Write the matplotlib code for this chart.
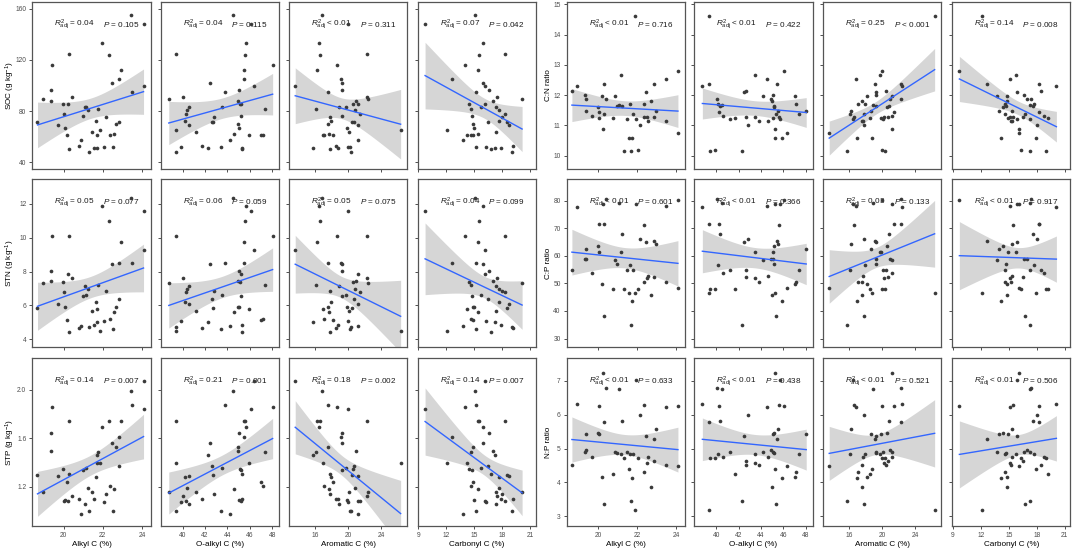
import numpy as np
import matplotlib
matplotlib.use("Agg")
import matplotlib.pyplot as plt

plt.rcParams['font.family'] = ['Liberation Sans', 'DejaVu Sans']
plt.rcParams['mathtext.fontset'] = 'custom'
plt.rcParams['mathtext.rm'] = 'Liberation Sans'
plt.rcParams['mathtext.it'] = 'Liberation Sans:italic'
plt.rcParams['mathtext.bf'] = 'Liberation Sans:bold'

# ---------------- data (one value per soil sample) ----------------
alkyl_c = [18.67, 18.94, 19.34, 19.37, 19.41, 19.72, 19.98, 20.03, 20.07, 20.19, 20.24, 20.30, 20.30, 20.42,
           20.79, 20.89, 20.98, 21.08, 21.15, 21.24, 21.31, 21.47, 21.57, 21.64, 21.71, 21.73, 21.78, 21.87,
           21.95, 22.04, 22.16, 22.34, 22.37, 22.46, 22.51, 22.57, 22.69, 22.84, 22.84, 22.95, 23.46, 23.49,
           24.08, 24.08]
o_alkyl_c = [42.70, 38.77, 45.03, 44.91, 48.04, 40.58, 45.12, 40.28, 45.03, 47.02, 45.21, 39.39, 45.34, 40.06,
             41.72, 44.20, 45.18, 40.55, 43.50, 40.37, 39.45, 41.20, 45.28, 40.18, 42.30, 45.92, 47.39, 39.39,
             45.67, 39.88, 42.85, 45.58, 47.15, 42.45, 43.44, 44.63, 44.97, 42.64, 45.46, 45.49, 44.54, 43.83,
             46.10, 46.35]
aromatic_c = [20.50, 22.38, 19.21, 21.00, 18.71, 21.17, 20.63, 21.50, 19.92, 18.13, 21.17, 22.25, 17.79, 22.29,
              18.50, 21.25, 19.25, 18.92, 19.75, 20.83, 20.33, 20.17, 18.83, 17.88, 15.79, 17.00, 16.13, 26.38,
              16.42, 20.04, 17.79, 16.58, 17.10, 19.21, 20.25, 17.71, 17.50, 20.71, 19.13, 16.25, 16.88, 17.50,
              20.04, 13.58]
carbonyl_c = [18.46, 20.11, 16.61, 16.96, 14.00, 18.75, 14.43, 18.29, 14.95, 14.85, 16.11, 18.25, 16.75, 17.43,
              19.18, 13.75, 14.71, 17.29, 15.75, 17.64, 19.00, 17.32, 17.89, 17.68, 17.25, 14.21, 14.65, 12.11,
              15.93, 16.29, 18.00, 15.46, 14.60, 15.93, 15.18, 15.39, 14.85, 16.50, 12.64, 15.39, 15.11, 15.21,
              9.71, 16.10]
soc = [71.2, 89.8, 96.6, 88.0, 116.0, 69.0, 85.6, 77.5, 66.7, 61.5, 85.6, 124.9, 50.0, 90.8, 52.6, 57.3, 76.2,
       83.5, 83.5, 80.9, 48.1, 63.3, 51.3, 72.5, 51.0, 61.0, 81.9, 65.2, 133.3, 51.8, 75.1, 124.1, 61.0, 101.8,
       51.8, 62.3, 69.9, 71.7, 105.5, 112.0, 155.0, 94.8, 148.2, 100.0]
stn = [5.87, 7.30, 8.05, 7.42, 10.10, 6.10, 7.38, 6.77, 5.93, 5.14, 7.87, 10.10, 4.40, 7.64, 4.67, 4.79, 6.54,
       7.15, 6.60, 6.95, 4.73, 5.65, 4.85, 6.20, 5.03, 5.77, 7.19, 4.46, 11.90, 5.08, 6.83, 11.00, 5.22, 8.42,
       4.59, 5.60, 5.93, 6.36, 8.52, 9.76, 12.37, 8.50, 11.57, 9.30]
stp = [1.296, 1.155, 1.644, 1.500, 1.860, 1.288, 1.350, 1.084, 1.090, 1.240, 1.085, 1.745, 1.310, 1.127, 1.100,
       0.980, 1.340, 1.056, 1.360, 1.195, 1.000, 1.155, 1.100, 1.280, 1.460, 1.400, 1.490, 1.400, 1.690, 1.076,
       1.140, 1.745, 1.210, 1.565, 1.000, 1.180, 1.530, 1.370, 1.610, 1.745, 1.990, 1.875, 1.845, 2.070]
cn_ratio = [12.13, 12.30, 12.00, 11.86, 11.49, 11.31, 11.60, 11.45, 11.25, 11.96, 10.88, 12.37, 11.36, 11.88,
            11.26, 11.96, 11.65, 11.68, 12.65, 11.64, 10.17, 11.20, 10.58, 11.69, 10.14, 10.57, 11.39, 14.62,
            11.20, 10.20, 11.00, 11.28, 11.69, 12.09, 11.29, 11.13, 11.79, 11.27, 12.38, 11.48, 12.53, 11.15,
            12.81, 10.75]
cp_ratio = [54.9, 77.7, 58.8, 58.7, 62.4, 53.6, 63.4, 71.5, 61.2, 49.6, 78.9, 71.6, 38.2, 80.6, 47.8, 58.5, 56.9,
            79.1, 61.4, 67.7, 48.1, 54.8, 46.6, 56.6, 34.9, 43.6, 55.0, 46.6, 78.9, 48.1, 65.9, 71.1, 50.4, 65.0,
            51.8, 52.8, 45.7, 52.3, 65.5, 64.2, 77.9, 50.6, 80.3, 48.3]
np_ratio = [4.53, 6.32, 4.90, 4.95, 5.43, 4.74, 5.47, 6.25, 5.44, 4.15, 7.25, 5.79, 3.36, 6.78, 4.25, 4.89, 4.88,
            6.77, 4.85, 5.82, 4.73, 4.89, 4.41, 4.84, 3.45, 4.12, 4.83, 3.19, 7.04, 4.72, 5.99, 6.30, 4.31, 5.38,
            4.59, 4.75, 3.88, 4.64, 5.29, 5.59, 6.22, 4.53, 6.27, 4.49]

x_vars = [alkyl_c, o_alkyl_c, aromatic_c, carbonyl_c]
x_labels = ["Alkyl C (%)", "O-alkyl C (%)", "Aromatic C (%)", "Carbonyl C (%)"]
x_ticks = [[20, 22, 24], [40, 42, 44, 46, 48], [16, 20, 24], [9, 12, 15, 18, 21]]
x_lims = [(18.41, 24.44), (38.05, 48.6), (12.85, 27.2), (8.93, 21.6)]

y_vars_left = [soc, stn, stp]
y_vars_right = [cn_ratio, cp_ratio, np_ratio]
y_labels_left = ["SOC (g kg$^{-1}$)", "STN (g kg$^{-1}$)", "STP (g kg$^{-1}$)"]
y_labels_right = ["C:N ratio", "C:P ratio", "N:P ratio"]
y_ticks_left = [[40, 80, 120, 160], [4, 6, 8, 10, 12], [1.2, 1.6, 2.0]]
y_ticks_right = [[10, 11, 12, 13, 14, 15], [30, 40, 50, 60, 70, 80], [3, 4, 5, 6, 7]]
y_lims_left = [(34.5, 165.5), (3.55, 13.45), (0.88, 2.26)]
y_lims_right = [(9.55, 15.08), (27.0, 87.7), (2.72, 7.67)]

r2_left = [["= 0.04", "= 0.04", "< 0.01", "= 0.07"],
           ["= 0.05", "= 0.06", "= 0.05", "= 0.04"],
           ["= 0.14", "= 0.21", "= 0.18", "= 0.14"]]
p_left = [["= 0.105", "= 0.115", "= 0.311", "= 0.042"],
          ["= 0.077", "= 0.059", "= 0.075", "= 0.099"],
          ["= 0.007", "= 0.001", "= 0.002", "= 0.007"]]
r2_right = [["< 0.01", "< 0.01", "= 0.25", "= 0.14"],
            ["< 0.01", "< 0.01", "= 0.03", "< 0.01"],
            ["< 0.01", "< 0.01", "< 0.01", "< 0.01"]]
p_right = [["= 0.716", "= 0.422", "< 0.001", "= 0.008"],
           ["= 0.601", "= 0.366", "= 0.133", "= 0.917"],
           ["= 0.633", "= 0.438", "= 0.521", "= 0.506"]]

# ---------------- layout ----------------
W, H = 1072, 549
fig = plt.figure(figsize=(W / 100, H / 100), dpi=100)
fig.patch.set_facecolor('white')

col_left_px = [[32.4, 160.7, 289.2, 417.8], [566.8, 694.3, 823.2, 952.1]]
panel_w = 118.2
row_top_px = [1.8, 179.3, 358.3]
panel_h = 167.5

T_CRIT = 2.018  # t(0.975, df = n - 2)

def add_panel(bx, col, row, xv, yv, ylim, yticks, r2txt, ptxt, bottom, left):
    l = col_left_px[bx][col] / W
    b = 1 - (row_top_px[row] + panel_h) / H
    ax = fig.add_axes([l, b, panel_w / W, panel_h / H])
    x = np.asarray(xv, float)
    y = np.asarray(yv, float)
    n = len(x)
    slope, icpt = np.polyfit(x, y, 1)
    resid = y - (slope * x + icpt)
    s = np.sqrt(np.sum(resid ** 2) / (n - 2))
    xm = x.mean()
    sxx = np.sum((x - xm) ** 2)
    xs = np.linspace(x.min(), x.max(), 80)
    ys = slope * xs + icpt
    se = s * np.sqrt(1.0 / n + (xs - xm) ** 2 / sxx)
    ax.fill_between(xs, ys - T_CRIT * se, ys + T_CRIT * se, color='#999999', alpha=0.4,
                    linewidth=0, zorder=1)
    ax.scatter(x, y, s=7, color='#3a3a3a', linewidths=0, zorder=3)
    ax.plot(xs, ys, color='#3366FF', linewidth=1.0, zorder=4)
    ax.set_xlim(*x_lims[col])
    ax.set_ylim(*ylim)
    ax.set_xticks(x_ticks[col])
    ax.set_yticks(yticks)
    ax.tick_params(axis='both', length=2.2, width=0.6, color='#333333', direction='out',
                   labelsize=4.8, labelcolor='#4D4D4D', pad=2.2)
    if not bottom:
        ax.set_xticklabels([])
    else:
        ax.set_xlabel(x_labels[col], fontsize=5.9, labelpad=1.8)
    if not left:
        ax.set_yticklabels([])
    for sp in ax.spines.values():
        sp.set_color('#555555')
        sp.set_linewidth(0.9)
    ax.text(0.186, 0.866, r"$R^{2}_{\mathrm{adj}}$ " + r2txt, transform=ax.transAxes,
            ha='left', va='center', fontsize=5.9, color='#1a1a1a', zorder=2)
    ax.text(0.595, 0.866, r"$P$ " + ptxt, transform=ax.transAxes,
            ha='left', va='center', fontsize=5.9, color='#1a1a1a', zorder=2)
    return ax

for row in range(3):
    for col in range(4):
        add_panel(0, col, row, x_vars[col], y_vars_left[row], y_lims_left[row], y_ticks_left[row],
                  r2_left[row][col], p_left[row][col], row == 2, col == 0)
        add_panel(1, col, row, x_vars[col], y_vars_right[row], y_lims_right[row], y_ticks_right[row],
                  r2_right[row][col], p_right[row][col], row == 2, col == 0)
    yc = 1 - (row_top_px[row] + panel_h / 2) / H
    fig.text(10 / W, yc, y_labels_left[row], rotation=90, ha='center', va='center', fontsize=5.9)
    fig.text(549 / W, yc, y_labels_right[row], rotation=90, ha='center', va='center', fontsize=5.9)

fig.savefig("out.png", dpi=100, facecolor='white')
